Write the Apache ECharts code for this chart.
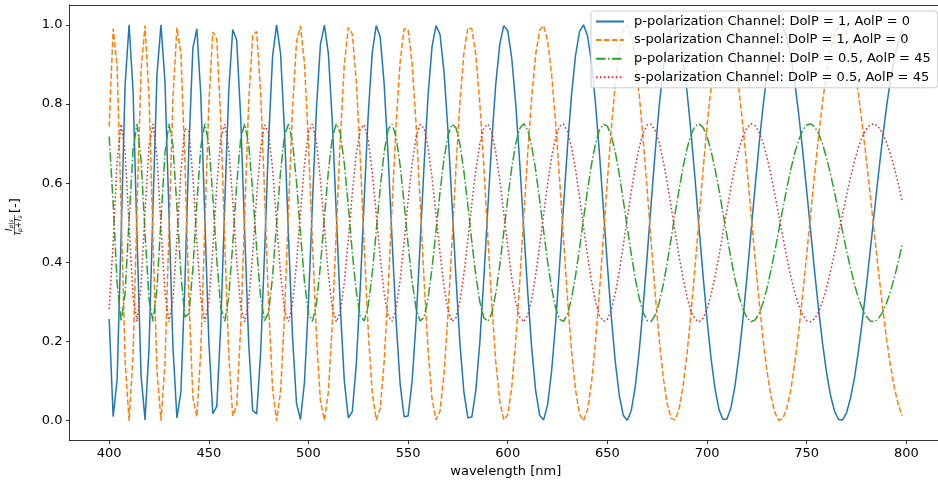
<!DOCTYPE html>
<html>
<head>
<meta charset="utf-8">
<script src="https://cdn.jsdelivr.net/npm/echarts@6/dist/echarts.min.js"></script>
<style>
html,body{margin:0;padding:0;background:#fff;overflow:hidden;width:938px;height:486px;}
#chart{width:942px;height:486px;}
</style>
</head>
<body>
<div id="chart"></div>
<script>
// wavelength samples [nm]
const wavelength = [400,402,404,406,408,410,412,414,416,418,420,422,424,426,428,430,432,434,436,438,440,442,444,446,448,450,452,454,456,458,460,462,464,466,468,470,472,474,476,478,480,482,484,486,488,490,492,494,496,498,500,502,504,506,508,510,512,514,516,518,520,522,524,526,528,530,532,534,536,538,540,542,544,546,548,550,552,554,556,558,560,562,564,566,568,570,572,574,576,578,580,582,584,586,588,590,592,594,596,598,600,602,604,606,608,610,612,614,616,618,620,622,624,626,628,630,632,634,636,638,640,642,644,646,648,650,652,654,656,658,660,662,664,666,668,670,672,674,676,678,680,682,684,686,688,690,692,694,696,698,700,702,704,706,708,710,712,714,716,718,720,722,724,726,728,730,732,734,736,738,740,742,744,746,748,750,752,754,756,758,760,762,764,766,768,770,772,774,776,778,780,782,784,786,788,790,792,794,796,798];

// p-polarization, DolP = 1, AolP = 0
const pDolp1 = [0.257,0.010,0.105,0.467,0.848,1.000,0.832,0.460,0.115,0.002,0.182,0.541,0.875,1.000,0.856,0.526,0.186,0.007,0.073,0.345,0.689,0.941,0.990,0.821,0.512,0.201,0.018,0.036,0.241,0.546,0.832,0.988,0.961,0.765,0.476,0.197,0.026,0.017,0.170,0.428,0.708,0.920,1.000,0.928,0.729,0.465,0.213,0.044,0.003,0.097,0.298,0.550,0.787,0.950,0.999,0.927,0.752,0.519,0.285,0.100,0.007,0.023,0.142,0.336,0.562,0.774,0.929,0.998,0.969,0.850,0.666,0.453,0.250,0.093,0.010,0.012,0.098,0.250,0.443,0.644,0.820,0.944,0.998,0.976,0.883,0.733,0.551,0.363,0.196,0.072,0.007,0.010,0.077,0.199,0.359,0.536,0.707,0.851,0.951,0.998,0.985,0.916,0.800,0.652,0.487,0.326,0.184,0.076,0.014,0.002,0.040,0.125,0.245,0.390,0.544,0.693,0.823,0.922,0.983,1.000,0.973,0.905,0.803,0.676,0.535,0.393,0.260,0.147,0.063,0.013,0.001,0.026,0.087,0.178,0.292,0.419,0.552,0.680,0.795,0.890,0.957,0.994,0.998,0.970,0.912,0.829,0.726,0.610,0.487,0.367,0.255,0.158,0.081,0.028,0.003,0.004,0.033,0.087,0.163,0.256,0.361,0.473,0.585,0.692,0.789,0.872,0.936,0.979,0.999,0.995,0.969,0.922,0.856,0.774,0.681,0.581,0.478,0.376,0.280,0.194,0.121,0.063,0.024,0.003,0.002,0.020,0.057,0.109,0.177,0.256,0.343,0.435,0.529,0.622,0.710,0.790,0.860,0.917,0.960,0.988];

// s-polarization, DolP = 1, AolP = 0
const sDolp1 = [0.743,0.990,0.895,0.533,0.152,0.000,0.168,0.540,0.885,0.998,0.818,0.459,0.125,0.000,0.144,0.474,0.814,0.993,0.927,0.655,0.311,0.059,0.010,0.179,0.488,0.799,0.982,0.964,0.759,0.454,0.168,0.012,0.039,0.235,0.524,0.803,0.974,0.983,0.830,0.572,0.292,0.080,0.000,0.072,0.271,0.535,0.787,0.956,0.997,0.903,0.702,0.450,0.213,0.050,0.001,0.073,0.248,0.481,0.715,0.900,0.993,0.977,0.858,0.664,0.438,0.226,0.071,0.002,0.031,0.150,0.334,0.547,0.750,0.907,0.990,0.988,0.902,0.750,0.557,0.356,0.180,0.056,0.002,0.024,0.117,0.267,0.449,0.637,0.804,0.928,0.993,0.990,0.923,0.801,0.641,0.464,0.293,0.149,0.049,0.002,0.015,0.084,0.200,0.348,0.513,0.674,0.816,0.924,0.986,0.998,0.960,0.875,0.755,0.610,0.456,0.307,0.177,0.078,0.017,0.000,0.027,0.095,0.197,0.324,0.465,0.607,0.740,0.853,0.937,0.987,0.999,0.974,0.913,0.822,0.708,0.581,0.448,0.320,0.205,0.110,0.043,0.006,0.002,0.030,0.088,0.171,0.274,0.390,0.513,0.633,0.745,0.842,0.919,0.972,0.997,0.996,0.967,0.913,0.837,0.744,0.639,0.527,0.415,0.308,0.211,0.128,0.064,0.021,0.001,0.005,0.031,0.078,0.144,0.226,0.319,0.419,0.522,0.624,0.720,0.806,0.879,0.937,0.976,0.997,0.998,0.980,0.943,0.891,0.823,0.744,0.657,0.565,0.471,0.378,0.290,0.210,0.140,0.083,0.040,0.012];

// p-polarization, DolP = 0.5, AolP = 45
const pDolp05 = [0.718,0.549,0.347,0.251,0.321,0.507,0.687,0.749,0.659,0.475,0.307,0.251,0.334,0.508,0.676,0.750,0.694,0.542,0.370,0.262,0.269,0.382,0.549,0.692,0.750,0.700,0.567,0.407,0.286,0.251,0.313,0.445,0.597,0.712,0.750,0.699,0.580,0.435,0.312,0.253,0.273,0.364,0.497,0.629,0.722,0.749,0.705,0.603,0.473,0.352,0.271,0.251,0.295,0.391,0.513,0.630,0.716,0.750,0.726,0.650,0.542,0.425,0.326,0.264,0.252,0.291,0.372,0.478,0.587,0.679,0.736,0.749,0.716,0.645,0.549,0.445,0.352,0.283,0.252,0.261,0.308,0.385,0.479,0.576,0.661,0.721,0.749,0.740,0.698,0.629,0.543,0.451,0.367,0.300,0.260,0.251,0.272,0.322,0.393,0.476,0.561,0.639,0.700,0.738,0.750,0.734,0.694,0.633,0.558,0.479,0.402,0.335,0.285,0.256,0.251,0.269,0.309,0.366,0.435,0.509,0.581,0.647,0.699,0.734,0.749,0.744,0.719,0.677,0.621,0.556,0.487,0.420,0.359,0.309,0.273,0.253,0.251,0.267,0.298,0.343,0.398,0.460,0.524,0.585,0.641,0.688,0.723,0.744,0.750,0.741,0.718,0.682,0.636,0.583,0.525,0.467,0.410,0.359,0.315,0.282,0.260,0.250,0.254,0.269,0.296,0.333,0.378,0.428,0.481,0.535,0.587,0.634,0.676,0.709,0.733,0.747,0.750,0.742,0.725,0.698,0.663,0.622,0.576,0.527,0.478,0.430,0.385,0.344,0.309,0.282,0.263,0.252,0.250,0.258,0.273,0.296,0.326,0.362,0.402,0.446];

// s-polarization, DolP = 0.5, AolP = 45
const sDolp05 = [0.282,0.451,0.653,0.749,0.679,0.493,0.313,0.251,0.341,0.525,0.693,0.749,0.666,0.492,0.324,0.250,0.306,0.458,0.630,0.738,0.731,0.618,0.451,0.308,0.250,0.300,0.433,0.593,0.714,0.749,0.687,0.555,0.403,0.288,0.250,0.301,0.420,0.565,0.688,0.747,0.727,0.636,0.503,0.371,0.278,0.251,0.295,0.397,0.527,0.648,0.729,0.749,0.705,0.609,0.487,0.370,0.284,0.250,0.274,0.350,0.458,0.575,0.674,0.736,0.748,0.709,0.628,0.522,0.413,0.321,0.264,0.251,0.284,0.355,0.451,0.555,0.648,0.717,0.748,0.739,0.692,0.615,0.521,0.424,0.339,0.279,0.251,0.260,0.302,0.371,0.457,0.549,0.633,0.700,0.740,0.749,0.728,0.678,0.607,0.524,0.439,0.361,0.300,0.262,0.250,0.266,0.306,0.367,0.442,0.521,0.598,0.665,0.715,0.744,0.749,0.731,0.691,0.634,0.565,0.491,0.419,0.353,0.301,0.266,0.251,0.256,0.281,0.323,0.379,0.444,0.513,0.580,0.641,0.691,0.727,0.747,0.749,0.733,0.702,0.657,0.602,0.540,0.476,0.415,0.359,0.312,0.277,0.256,0.250,0.259,0.282,0.318,0.364,0.417,0.475,0.533,0.590,0.641,0.685,0.718,0.740,0.750,0.746,0.731,0.704,0.667,0.622,0.572,0.519,0.465,0.413,0.366,0.324,0.291,0.267,0.253,0.250,0.258,0.275,0.302,0.337,0.378,0.424,0.473,0.522,0.570,0.615,0.656,0.691,0.718,0.737,0.748,0.750,0.742,0.727,0.704,0.674,0.638,0.598,0.554];

const seriesNames = [
  'p-polarization Channel: DolP = 1, AolP = 0',
  's-polarization Channel: DolP = 1, AolP = 0',
  'p-polarization Channel: DolP = 0.5, AolP = 45',
  's-polarization Channel: DolP = 0.5, AolP = 45'
];
const xTicks = [400,450,500,550,600,650,700,750,800];
const yTicks = [0.0,0.2,0.4,0.6,0.8,1.0];

const FONT = 'DejaVu Sans';
const colors = ['#1f77b4','#ff7f0e','#2ca02c','#d62728'];
const dashes = ['solid',[5.55,2.4],[9.6,2.4,1.5,2.4],[1.5,2.475]];
const valueSets = [pDolp1, sDolp1, pDolp05, sDolp05];

function pairs(ys){ return wavelength.map((x,i)=>[x, ys[i]]); }

const chart = echarts.init(document.getElementById('chart'), null, {renderer:'canvas'});

const series = valueSets.map((vals, k) => ({
  name: seriesNames[k],
  type: 'line',
  xAxisIndex: 0,
  data: pairs(vals),
  symbol: 'none',
  showSymbol: false,
  smooth: false,
  clip: true,
  lineStyle: {color: colors[k], width: 1.5, type: dashes[k], cap: 'butt'},
  itemStyle: {color: colors[k]},
  emphasis: {disabled: true},
  z: 2 + k
}));

function rt(text, x, y, font){
  return {type: 'text', x: x, y: y, rotation: Math.PI / 2,
    style: {text: text, font: font, fill: '#000', align: 'left', verticalAlign: 'middle'}};
}

chart.setOption({
  animation: false,
  backgroundColor: '#fff',
  grid: {left: 69.5, top: 5, right: 0, bottom: 45.5, show: false},
  legend: {
    orient: 'vertical',
    left: 591, top: 11,
    padding: [4, 7, 4, 4],
    itemWidth: 28, itemHeight: 14, itemGap: 5.6,
    backgroundColor: 'rgba(255,255,255,0.8)',
    borderColor: '#cccccc', borderWidth: 1, borderRadius: 3,
    itemStyle: {color: 'rgba(0,0,0,0)', borderColor: 'rgba(0,0,0,0)', borderWidth: 0, opacity: 0},
    textStyle: {fontFamily: FONT, fontSize: 13, color: '#000', padding: [0,0,0,5]},
    selectedMode: false,
    data: seriesNames
  },
  xAxis: [{
    type: 'value', min: 380.1, max: 817.9,
    name: 'wavelength [nm]', nameLocation: 'middle', nameGap: 23.5,
    nameTextStyle: {fontFamily: FONT, fontSize: 13, color: '#000'},
    axisLine: {show: true, onZero: false, lineStyle: {color: '#000', width: 0.8}},
    axisTick: {show: true, inside: false, length: 3.5, lineStyle: {color: '#000', width: 0.8}, customValues: xTicks},
    axisLabel: {fontFamily: FONT, fontSize: 13, color: '#000', margin: 7, customValues: xTicks, formatter: v => String(Math.round(v))},
    splitLine: {show: false}
  }, {
    type: 'value', position: 'top', min: 380.1, max: 817.9,
    axisLine: {show: true, onZero: false, lineStyle: {color: '#000', width: 0.8}},
    axisTick: {show: false}, axisLabel: {show: false}, splitLine: {show: false}
  }],
  yAxis: {
    type: 'value', min: -0.05, max: 1.05,
    axisLine: {show: true, onZero: false, lineStyle: {color: '#000', width: 0.8}},
    axisTick: {show: true, inside: false, length: 3.5, lineStyle: {color: '#000', width: 0.8}, customValues: yTicks},
    axisLabel: {fontFamily: FONT, fontSize: 13, color: '#000', margin: 7, customValues: yTicks, formatter: v => v.toFixed(1)},
    splitLine: {show: false}
  },
  graphic: [
    rt('I', 10, 231, 'italic 8px ' + FONT),
    rt('p|s', 11.8, 228.3, 'italic 6px ' + FONT),
    {type: 'line', shape: {x1: 14.5, y1: 215, x2: 14.5, y2: 235}, style: {stroke: '#000', lineWidth: 0.6}},
    rt('I', 18.5, 234.5, 'italic 8px ' + FONT),
    rt('p', 20.3, 232, 'italic 6px ' + FONT),
    rt('+', 18.5, 228.3, '8px ' + FONT),
    rt('I', 18.5, 221, 'italic 8px ' + FONT),
    rt('s', 20.3, 218.6, 'italic 6px ' + FONT),
    rt('[-]', 16, 213, '13px ' + FONT)
  ],
  series: series
});
</script>
</body>
</html>
